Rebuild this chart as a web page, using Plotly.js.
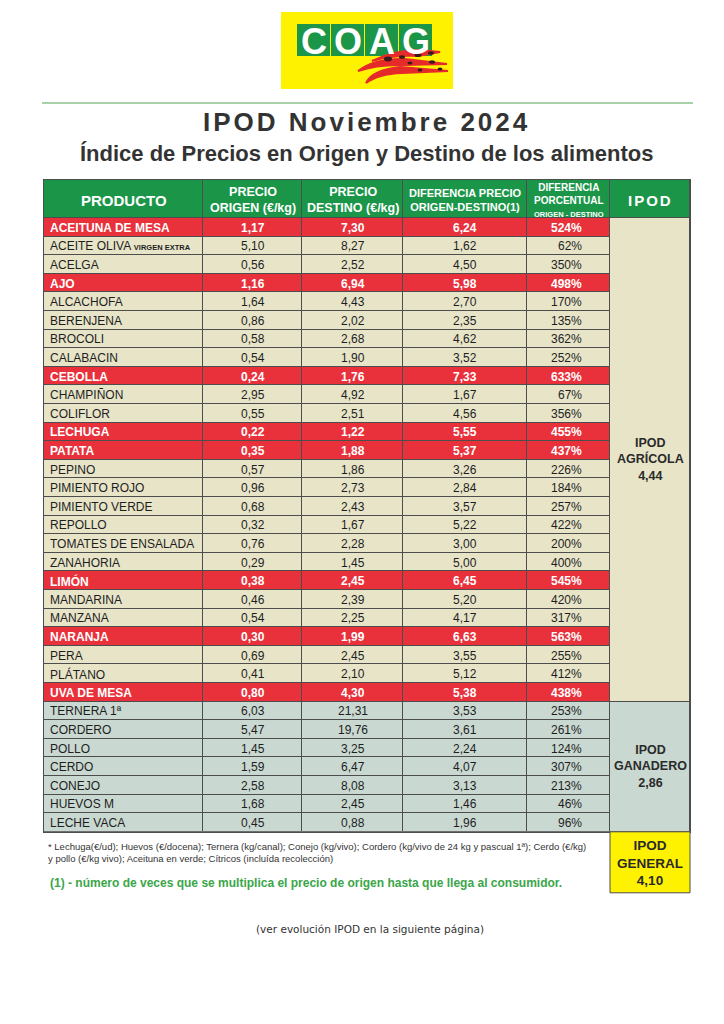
<!DOCTYPE html>
<html><head><meta charset="utf-8">
<script src="https://cdn.plot.ly/plotly-3.0.1.min.js"></script>
<style>html,body{margin:0;padding:0;background:#fff}</style>
</head><body><div id="chart" style="width:724px;height:1024px"></div>
<script>
// ---------------- DATA ----------------
const productos = ["ACEITUNA DE MESA","ACEITE OLIVA <b><span style='font-size:7.5px'>VIRGEN EXTRA</span></b>","ACELGA","AJO","ALCACHOFA","BERENJENA","BROCOLI","CALABACIN","CEBOLLA","CHAMPIÑON","COLIFLOR","LECHUGA","PATATA","PEPINO","PIMIENTO ROJO","PIMIENTO VERDE","REPOLLO","TOMATES DE ENSALADA","ZANAHORIA","LIMÓN","MANDARINA","MANZANA","NARANJA","PERA","PLÁTANO","UVA DE MESA","TERNERA 1ª","CORDERO","POLLO","CERDO","CONEJO","HUEVOS M","LECHE VACA"];
const precioOrigen = [1.17,5.10,0.56,1.16,1.64,0.86,0.58,0.54,0.24,2.95,0.55,0.22,0.35,0.57,0.96,0.68,0.32,0.76,0.29,0.38,0.46,0.54,0.30,0.69,0.41,0.80,6.03,5.47,1.45,1.59,2.58,1.68,0.45];
const precioDestino = [7.30,8.27,2.52,6.94,4.43,2.02,2.68,1.90,1.76,4.92,2.51,1.22,1.88,1.86,2.73,2.43,1.67,2.28,1.45,2.45,2.39,2.25,1.99,2.45,2.10,4.30,21.31,19.76,3.25,6.47,8.08,2.45,0.88];
const diferencia = [6.24,1.62,4.50,5.98,2.70,2.35,4.62,3.52,7.33,1.67,4.56,5.55,5.37,3.26,2.84,3.57,5.22,3.00,5.00,6.45,5.20,4.17,6.63,3.55,5.12,5.38,3.53,3.61,2.24,4.07,3.13,1.46,1.96];
const porcentaje = [524,62,350,498,170,135,362,252,633,67,356,455,437,226,184,257,422,200,400,545,420,317,563,255,412,438,253,261,124,307,213,46,96];
const destacado = [1,0,0,1,0,0,0,0,1,0,0,1,1,0,0,0,0,0,0,1,0,0,1,0,0,1,0,0,0,0,0,0,0];
const grupo = ["A","A","A","A","A","A","A","A","A","A","A","A","A","A","A","A","A","A","A","A","A","A","A","A","A","A","G","G","G","G","G","G","G"];
const cabeceras = ["PRODUCTO","PRECIO<br>ORIGEN (€/kg)","PRECIO<br>DESTINO (€/kg)","DIFERENCIA PRECIO<br>ORIGEN-DESTINO(1)","DIFERENCIA<br>PORCENTUAL<br><span style='font-size:7.5px'>ORIGEN - DESTINO</span>"];
const ipodLabels = ["IPOD<br>AGRÍCOLA","IPOD<br>GANADERO","IPOD<br>GENERAL"];
const ipodValores = [4.44, 2.86, 4.10];

// ---------------- STYLE ----------------
const W = 724, H = 1024;
const px = x => x / W, py = y => 1 - y / H;
const GREEN = '#1b9649', RED = '#e8313b', BEIGE = '#e7e4c8', GAN = '#c9d8d1', LINE = '#4d4d4d', YEL = '#fff200';
const SANS = 'Liberation Sans, Arial, sans-serif';
const tableTop = 180, headerH = 38, rowH = 18.6, tL = 44;
const colW = [159, 99, 101, 124, 83], ipodW = 80;
const headSize = [15, 12.5, 12.5, 11, 10];
const n = productos.length;
const nA = grupo.filter(g => g === 'A').length;
const tableH = headerH + n * rowH;
const tableW = colW.reduce((a, b) => a + b, 0) + ipodW;

const xEdges = [0];
colW.forEach(w => xEdges.push(xEdges[xEdges.length - 1] + w));
const yEdges = [0, headerH];
for (let i = 0; i < n; i++) yEdges.push(headerH + (i + 1) * rowH);
const code = i => destacado[i] ? 1 : (grupo[i] === 'A' ? 0 : 2);
const z = [colW.map(() => 3)];
for (let i = 0; i < n; i++) z.push(colW.map(() => code(i)));
const cs = [[0, BEIGE], [0.17, BEIGE], [0.17, RED], [0.5, RED], [0.5, GAN], [0.83, GAN], [0.83, GREEN], [1, GREEN]];

const xI = [xEdges[5], xEdges[5] + ipodW];
const yI = [0, headerH, headerH + nA * rowH, tableH];

const traces = [
  {type: 'heatmap', x: xEdges, y: yEdges, z: z, zmin: 0, zmax: 3, colorscale: cs, showscale: false, xgap: 1, ygap: 1, hoverinfo: 'skip'},
  {type: 'heatmap', x: xI, y: yI, z: [[3], [0], [2]], zmin: 0, zmax: 3, colorscale: cs, showscale: false, xgap: 1, ygap: 1, hoverinfo: 'skip'}
];

const fmt = v => v.toFixed(2).replace('.', ',');
const annotations = [];
const shapes = [];
const cellText = (x, y, t, opts) => annotations.push(Object.assign({xref: 'x', yref: 'y', x: x, y: y, text: t, showarrow: false,
  xanchor: 'center', yanchor: 'middle'}, opts));
const text = (x, y, t, size, color, family, xanchor, extra) => annotations.push(Object.assign({xref: 'paper', yref: 'paper',
  x: px(x), y: py(y), text: t, showarrow: false, xanchor: xanchor || 'center', yanchor: 'middle',
  font: {size: size, color: color, family: family || SANS}}, extra || {}));

// header texts
cabeceras.forEach((h, j) => cellText((xEdges[j] + xEdges[j + 1]) / 2, headerH / 2 + 1, '<b>' + h + '</b>',
  {font: {size: headSize[j], color: '#fff', family: SANS}}));
cellText((xI[0] + xI[1]) / 2, headerH / 2 + 1, "<b><span style='letter-spacing:2px'>IPOD</span></b>", {font: {size: 15, color: '#fff', family: SANS}});

// body texts
for (let i = 0; i < n; i++) {
  const yc = headerH + (i + 0.5) * rowH + 0.5;
  const b = destacado[i];
  const f = {size: 12, color: b ? '#ffffff' : '#1e1e1e', family: SANS};
  const w = s => b ? '<b>' + s + '</b>' : s;
  cellText(xEdges[0] + 4, yc, w(productos[i]), {xanchor: 'left', font: f});
  cellText((xEdges[1] + xEdges[2]) / 2, yc, w(fmt(precioOrigen[i])), {font: f});
  cellText((xEdges[2] + xEdges[3]) / 2, yc, w(fmt(precioDestino[i])), {font: f});
  cellText((xEdges[3] + xEdges[4]) / 2, yc, w(fmt(diferencia[i])), {font: f});
  cellText(xEdges[4] + 57, yc, w(porcentaje[i] + '%'), {xanchor: 'right', font: f});
}
// IPOD group texts
cellText((xI[0] + xI[1]) / 2, (yI[1] + yI[2]) / 2, '<b>' + ipodLabels[0] + '<br>' + fmt(ipodValores[0]) + '</b>', {font: {size: 12.5, color: '#2a2a2a', family: SANS}});
cellText((xI[0] + xI[1]) / 2, (yI[2] + yI[3]) / 2, '<b>' + ipodLabels[1] + '<br>' + fmt(ipodValores[1]) + '</b>', {font: {size: 12.5, color: '#2a2a2a', family: SANS}});

// IPOD general box (below table, IPOD column)
const gx0 = tL + xI[0], gx1 = tL + xI[1], gy0 = tableTop + tableH, gy1 = gy0 + 61;
shapes.push({type: 'rect', xref: 'paper', yref: 'paper', x0: px(gx0), x1: px(gx1), y0: py(gy1), y1: py(gy0), fillcolor: YEL, line: {color: LINE, width: 1}});
text((gx0 + gx1) / 2, (gy0 + gy1) / 2 + 1, '<b>' + ipodLabels[2] + '<br>' + fmt(ipodValores[2]) + '</b>', 13.5, '#2a2a2a', SANS);

// Logo
const rect = (x0, y0, x1, y1, fill) => shapes.push({type: 'rect', xref: 'paper', yref: 'paper',
  x0: px(x0), x1: px(x1), y0: py(y1), y1: py(y0), fillcolor: fill, line: {width: 0}});
rect(281, 12, 453, 89, YEL);
['C', 'O', 'A', 'G'].forEach((c, i) => {
  const x0 = 297 + i * 34;
  rect(x0, 24, x0 + 33, 56, GREEN);
  text(x0 + 16.5, 41, '<b>' + c + '</b>', 36, '#ffffff', SANS);
});
const P = (x, y) => px(x).toFixed(5) + ',' + py(y).toFixed(5);
const swoosh = [
  'M' + P(366, 83) + ' Q' + P(372, 70) + ' ' + P(400, 67) + ' L' + P(448, 71) + ' L' + P(402, 73) + ' Q' + P(378, 74) + ' ' + P(366, 83) + ' Z',
  'M' + P(358, 71) + ' Q' + P(375, 58) + ' ' + P(405, 59) + ' L' + P(447, 64) + ' L' + P(405, 65) + ' Q' + P(378, 64) + ' ' + P(358, 71) + ' Z',
  'M' + P(372, 61) + ' Q' + P(395, 50) + ' ' + P(420, 50) + ' L' + P(440, 52) + ' L' + P(418, 56) + ' Q' + P(393, 55) + ' ' + P(372, 61) + ' Z'
];
swoosh.forEach(d => shapes.push({type: 'path', xref: 'paper', yref: 'paper', path: d, fillcolor: '#e62a2a', line: {color: '#e62a2a', width: 2}}));
[[388, 59, 4], [402, 57, 3], [418, 55, 3.5], [431, 53, 3], [410, 63, 2.5], [432, 62, 3], [420, 70, 2.5], [440, 69, 2.5]].forEach(d => shapes.push({type: 'circle', xref: 'paper', yref: 'paper',
  x0: px(d[0] - d[2]), x1: px(d[0] + d[2]), y0: py(d[1] + d[2] * 0.6), y1: py(d[1] - d[2] * 0.6), fillcolor: '#3a1a1a', line: {width: 0}}));

// separator line
shapes.push({type: 'line', xref: 'paper', yref: 'paper', x0: px(42), x1: px(693), y0: py(103), y1: py(103), line: {color: '#8cc28a', width: 1.5}});

// Titles
text(366, 122, "<b><span style='letter-spacing:3px'>IPOD Noviembre 2024</span></b>", 26, '#333333', SANS);
text(366, 153, '<b>Índice de Precios en Origen y Destino de los alimentos</b>', 22, '#333333', SANS);

// Footnotes
text(46, 852, '* Lechuga(€/ud); Huevos (€/docena); Ternera (kg/canal); Conejo (kg/vivo); Cordero (kg/vivo de 24 kg y pascual 1ª); Cerdo (€/kg)<br>y pollo (€/kg vivo); Aceituna en verde; Cítricos (incluída recolección)', 9.5, '#333', SANS, 'left', {align: 'left'});
text(48, 883, '<b>(1) - número de veces que se multiplica el precio de origen hasta que llega al consumidor.</b>', 12, '#3aa648', SANS, 'left');
text(370, 929, '(ver evolución IPOD en la siguiente página)', 10.5, '#333', 'DejaVu Sans, Verdana, sans-serif');

const ax = {showgrid: false, zeroline: false, showticklabels: false, ticks: '', showline: true, mirror: true, linecolor: LINE, linewidth: 1, fixedrange: true};
Plotly.newPlot('chart', traces, {
  width: W, height: H, margin: {l: 0, r: 0, t: 0, b: 0},
  paper_bgcolor: '#ffffff', plot_bgcolor: LINE, showlegend: false,
  xaxis: Object.assign({}, ax, {range: [0, tableW], domain: [px(tL), px(tL + tableW)]}),
  yaxis: Object.assign({}, ax, {range: [tableH, 0], domain: [py(tableTop + tableH), py(tableTop)]}),
  shapes: shapes, annotations: annotations
}, {displayModeBar: false, staticPlot: true});
</script>
</body></html>
